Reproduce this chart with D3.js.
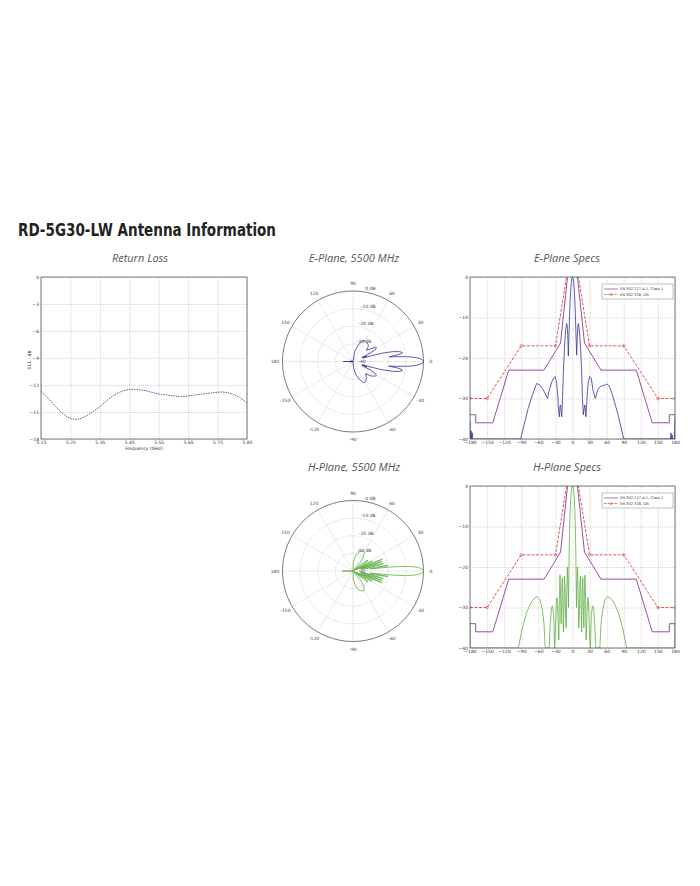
<!DOCTYPE html>
<html>
<head>
<meta charset="utf-8">
<script src="https://cdnjs.cloudflare.com/ajax/libs/d3/7.8.5/d3.min.js"></script>
<style>
body { margin: 0; background: #fff; }
text { font-family: "DejaVu Sans", sans-serif; }
.sub { font-family: "Open Sans", sans-serif; font-style: italic; fill: #555; font-size: 11px; }
.tick text { font-size: 4.5px; fill: #333; }
.tick line { stroke: #aaa; stroke-width: 0.5; stroke-dasharray: 1,1; }
.box { fill: none; stroke: #444; stroke-width: 0.7; }
</style>
</head>
<body>
<div id="chart-area"></div>
<script>
// ---- data ----
var rlFreq = [5.15, 5.175, 5.2, 5.225, 5.25, 5.275, 5.3, 5.325, 5.35, 5.375, 5.4, 5.425, 5.45, 5.475,
              5.5, 5.525, 5.55, 5.575, 5.6, 5.625, 5.65, 5.675, 5.7, 5.725, 5.75, 5.775, 5.8, 5.825, 5.85];
var rlValues = [-12.7, -13.5, -14.4, -15.2, -15.7, -15.8, -15.5, -15.0, -14.4, -13.7, -13.1, -12.7, -12.5, -12.5,
                -12.6, -12.8, -13.0, -13.1, -13.2, -13.3, -13.2, -13.1, -13.0, -12.9, -12.8, -12.8, -13.0, -13.4, -14.0];
var rlTicksX = [5.15, 5.25, 5.35, 5.45, 5.55, 5.65, 5.75, 5.85];
var rlTicksY = [0, -3, -6, -9, -12, -15, -18];

var specTicksX = [-180, -150, -120, -90, -60, -30, 0, 30, 60, 90, 120, 150, 180];
var specTicksY = [0, -10, -20, -30, -40];

// EN 302 217-4-1 class 1 envelope
var classMask = [[-180, -34], [-170, -34], [-170, -36], [-140, -36], [-112, -23], [-50, -23], [-21, -16.3], [-5, 5],
                 [5, 5], [21, -16.3], [50, -23], [112, -23], [140, -36], [170, -36], [170, -34], [180, -34]];
// EN 302 326 DN envelope
var dnMask = [[-180, -30], [-150, -30], [-90, -17], [-30, -17], [0, 9], [30, -17], [90, -17], [150, -30], [180, -30]];

var ePattern = [[-180, -35.5], [-179.5, -40], [-178, -38], [-177, -40], [-176, -38.5], [-175, -40], [-91, -40],
  [-85, -36.5], [-78, -32.5], [-70, -29], [-63, -26.3], [-58, -26.6], [-53, -27.5], [-48, -28.7], [-44, -30],
  [-40, -27.5], [-36, -25.8], [-33, -24.9], [-30.5, -24.6], [-28, -25.9], [-26, -29], [-24.5, -33], [-23, -34.5],
  [-22, -32], [-21, -31.6], [-20, -33], [-19, -34.5], [-17.5, -30], [-16, -23.4], [-14, -17], [-12, -13],
  [-10.3, -11.5], [-9.3, -12], [-8.3, -14.5], [-7.3, -19.5], [-6.3, -15], [-5, -9], [-4, -5.5], [-3, -3],
  [-2, -1.3], [-1, -0.3], [0, 0], [1, -0.3], [2, -1.3], [3, -3], [4, -5.5], [5, -9], [6.3, -15], [7.3, -19.3],
  [8.5, -14.5], [9.5, -12], [10.3, -11.5], [12, -13], [14, -17], [16, -23], [17.5, -30], [19, -34], [20, -33],
  [21.5, -31.6], [22.5, -32.5], [23.5, -34.5], [25, -31], [27.5, -26], [30.5, -24.6], [33, -25], [36, -28],
  [40, -30], [44, -28], [49, -27], [55, -26.8], [60, -26.4], [65, -27], [72, -30], [80, -34], [90, -40],
  [172, -40], [173, -38.5], [174, -40], [175, -39], [176, -40], [179, -40], [180, -34.5]];

var hPattern = [[-180, -33.8], [-179.5, -40], [-95, -40], [-88, -35], [-80, -31], [-72, -28.6], [-66, -27.6],
  [-62, -27.3], [-57, -28.2], [-53, -30.5], [-50, -34], [-48, -40], [-41, -40], [-39, -34], [-37, -30],
  [-35, -29.6], [-33, -32], [-31.5, -40], [-30, -36], [-28.5, -29], [-27, -27.6], [-25.5, -32], [-24, -38],
  [-23, -28], [-22, -22], [-21, -26], [-20, -34], [-19, -30], [-18, -22.7], [-17, -27], [-16, -36], [-15, -30],
  [-14, -22.3], [-13, -25], [-12, -33], [-11, -35], [-10, -26], [-9, -20], [-8, -24], [-7, -30], [-6, -18],
  [-5, -10], [-4, -5.5], [-3, -2.8], [-2, -1.2], [-1, -0.3], [0, 0], [1, -0.3], [2, -1.2], [3, -2.8], [4, -5.5],
  [5, -10], [6, -18], [7, -30], [8, -23], [9, -20], [10, -27], [11, -35], [12, -32], [13, -24], [14, -22.3],
  [15, -29], [16, -36], [17, -27], [18, -22.7], [19, -30], [20, -35], [21, -25], [22, -22], [23, -28], [24, -38],
  [25.5, -31], [27, -27.5], [28.5, -30], [30, -37], [31.5, -40], [33, -32], [35, -29.6], [37, -30], [39, -34],
  [41, -40], [48, -40], [50, -34], [53, -30.5], [57, -28], [62, -27.3], [66, -27.6], [72, -28.6], [80, -31],
  [88, -35], [95, -40], [179.5, -40], [180, -34]];

var polarAngles = [0, 30, 60, 90, 120, 150, 180, -150, -120, -90, -60, -30];
var ringLevels = [0, -10, -20, -30, -40];
var ringLabels = ["0 dB", "-10 dB", "-20 dB", "-30 dB", "-40"];
var legendNames = ["EN 302 217-4-1, Class 1", "EN 302 326, DN"];

var purple = "#8e3a9c", red = "#d8473f", blue = "#34349a", green = "#5fae45";

var svg = d3.select("#chart-area").append("svg").attr("width", 700).attr("height", 886);
svg.append("rect").attr("width", 700).attr("height", 886).attr("fill", "#fff");

svg.append("text").text("RD-5G30-LW Antenna Information")
    .attr("x", 18).attr("y", 236)
    .attr("font-family", "'Open Sans', sans-serif").attr("font-weight", "bold")
    .attr("font-size", "17px").attr("fill", "#222")
    .attr("textLength", 258).attr("lengthAdjust", "spacingAndGlyphs");

function subtitle(txt, x, y) {
    svg.append("text").attr("class", "sub").attr("x", x).attr("y", y)
        .attr("text-anchor", "middle").text(txt);
}
subtitle("Return Loss", 140, 262);
subtitle("E-Plane, 5500 MHz", 354, 262);
subtitle("E-Plane Specs", 567, 262);
subtitle("H-Plane, 5500 MHz", 354, 471);
subtitle("H-Plane Specs", 567, 471);

// ---- return loss ----
var rlX = d3.scaleLinear().domain([5.15, 5.85]).range([41, 247]);
var rlY = d3.scaleLinear().domain([-18, 0]).range([439, 277]);

svg.append("g").attr("transform", "translate(0,439)")
    .call(d3.axisBottom(rlX).tickValues(rlTicksX).tickFormat(d3.format(".2f"))
        .tickSizeInner(-162).tickSizeOuter(0).tickPadding(2))
    .call(g => g.select(".domain").remove());
svg.append("g").attr("transform", "translate(41,0)")
    .call(d3.axisLeft(rlY).tickValues(rlTicksY).tickSizeInner(-206).tickSizeOuter(0).tickPadding(2))
    .call(g => g.select(".domain").remove());
svg.append("rect").attr("class", "box").attr("x", 41).attr("y", 277).attr("width", 206).attr("height", 162);

svg.append("text").text("Frequency (GHz)").attr("x", 144).attr("y", 450)
    .attr("text-anchor", "middle").attr("font-size", "4.5px").attr("fill", "#333");
svg.append("text").text("S11 - dB").attr("transform", "translate(31,360) rotate(-90)")
    .attr("text-anchor", "middle").attr("font-size", "4.5px").attr("fill", "#333");

var rlData = rlFreq.map((f, i) => [f, rlValues[i]]);
svg.append("path").datum(rlData)
    .attr("d", d3.line().x(d => rlX(d[0])).y(d => rlY(d[1])).curve(d3.curveCatmullRom))
    .attr("fill", "none").attr("stroke", "#4a4a92").attr("stroke-width", 0.9)
    .attr("stroke-dasharray", "1.5,1");

// ---- spec charts ----
function drawSpecs(top, pattern, color, id) {
    var x = d3.scaleLinear().domain([-180, 180]).range([470, 675]);
    var y = d3.scaleLinear().domain([-40, 0]).range([top + 162, top]);
    var g = svg.append("g");

    g.append("clipPath").attr("id", id).append("rect")
        .attr("x", 470).attr("y", top).attr("width", 205).attr("height", 162);

    g.append("g").attr("transform", "translate(0," + (top + 162) + ")")
        .call(d3.axisBottom(x).tickValues(specTicksX).tickSizeInner(-162).tickSizeOuter(0).tickPadding(2))
        .call(a => a.select(".domain").remove());
    g.append("g").attr("transform", "translate(470,0)")
        .call(d3.axisLeft(y).tickValues(specTicksY).tickSizeInner(-205).tickSizeOuter(0).tickPadding(2))
        .call(a => a.select(".domain").remove());

    var line = d3.line().x(d => x(d[0])).y(d => y(Math.max(d[1], -40.5)));
    var plot = g.append("g").attr("clip-path", "url(#" + id + ")");

    plot.append("path").datum(pattern).attr("d", line)
        .attr("fill", "none").attr("stroke", color).attr("stroke-width", 0.8);
    plot.append("path").datum(classMask).attr("d", line)
        .attr("fill", "none").attr("stroke", purple).attr("stroke-width", 0.9);
    plot.append("path").datum(dnMask).attr("d", line)
        .attr("fill", "none").attr("stroke", red).attr("stroke-width", 0.9)
        .attr("stroke-dasharray", "3,1.5");
    plot.selectAll("circle").data(dnMask).enter().append("circle")
        .attr("cx", d => x(d[0])).attr("cy", d => y(d[1])).attr("r", 1.3)
        .attr("fill", "none").attr("stroke", red).attr("stroke-width", 0.6);

    g.append("rect").attr("class", "box").attr("x", 470).attr("y", top).attr("width", 205).attr("height", 162);

    // legend
    var lg = g.append("g").attr("transform", "translate(602," + (top + 7) + ")");
    lg.append("rect").attr("width", 71).attr("height", 15)
        .attr("fill", "#fff").attr("stroke", "#666").attr("stroke-width", 0.4);
    legendNames.forEach((name, i) => {
        var ly = 5 + i * 5.5;
        lg.append("line").attr("x1", 2).attr("x2", 16).attr("y1", ly).attr("y2", ly)
            .attr("stroke", i ? red : purple).attr("stroke-width", 0.7)
            .attr("stroke-dasharray", i ? "2.5,1" : null);
        if (i) lg.append("circle").attr("cx", 9).attr("cy", ly).attr("r", 1.1)
            .attr("fill", "none").attr("stroke", red).attr("stroke-width", 0.5);
        lg.append("text").text(name).attr("x", 18).attr("y", ly + 1.3)
            .attr("font-size", "3.6px").attr("fill", "#333");
    });
}
drawSpecs(277, ePattern, blue, "clipE");
drawSpecs(486, hPattern, green, "clipH");

// ---- polar charts ----
function drawPolar(cx, cy, pattern, color) {
    var R = 70.5;
    var r = d3.scaleLinear().domain([-40, 0]).range([0, R]).clamp(true);
    var g = svg.append("g").attr("transform", "translate(" + cx + "," + cy + ")");

    g.selectAll(".spoke").data(polarAngles).enter().append("line")
        .attr("x1", 0).attr("y1", 0)
        .attr("x2", d => R * Math.cos(d * Math.PI / 180))
        .attr("y2", d => -R * Math.sin(d * Math.PI / 180))
        .attr("stroke", "#aaa").attr("stroke-width", 0.5).attr("stroke-dasharray", "1,1");

    g.selectAll(".ring").data(ringLevels.slice(1, 4)).enter().append("circle")
        .attr("r", d => r(d)).attr("fill", "none")
        .attr("stroke", "#aaa").attr("stroke-width", 0.5).attr("stroke-dasharray", "1,1");
    g.append("circle").attr("r", R).attr("fill", "none").attr("stroke", "#444").attr("stroke-width", 0.7);

    g.selectAll(".alabel").data(polarAngles).enter().append("text")
        .attr("x", d => 78 * Math.cos(d * Math.PI / 180))
        .attr("y", d => -78 * Math.sin(d * Math.PI / 180) + 1.5)
        .attr("text-anchor", "middle").attr("font-size", "4.5px").attr("fill", "#444")
        .text(d => d);

    g.selectAll(".rlabel").data(ringLevels).enter().append("text")
        .attr("x", d => 9 + 0.12 * r(d))
        .attr("y", d => -r(d) - (r(d) ? 1 : -1.5))
        .attr("text-anchor", "middle").attr("font-size", "4.5px").attr("fill", "#444")
        .text((d, i) => ringLabels[i]);

    var radial = d3.lineRadial()
        .angle(d => (90 - d[0]) * Math.PI / 180)
        .radius(d => r(d[1]))
        .curve(d3.curveLinearClosed);
    g.append("path").datum(pattern).attr("d", radial)
        .attr("fill", "none").attr("stroke", color).attr("stroke-width", 0.8);
}
drawPolar(353, 361.5, ePattern, blue);
drawPolar(353, 571, hPattern, green);
</script>
</body>
</html>
